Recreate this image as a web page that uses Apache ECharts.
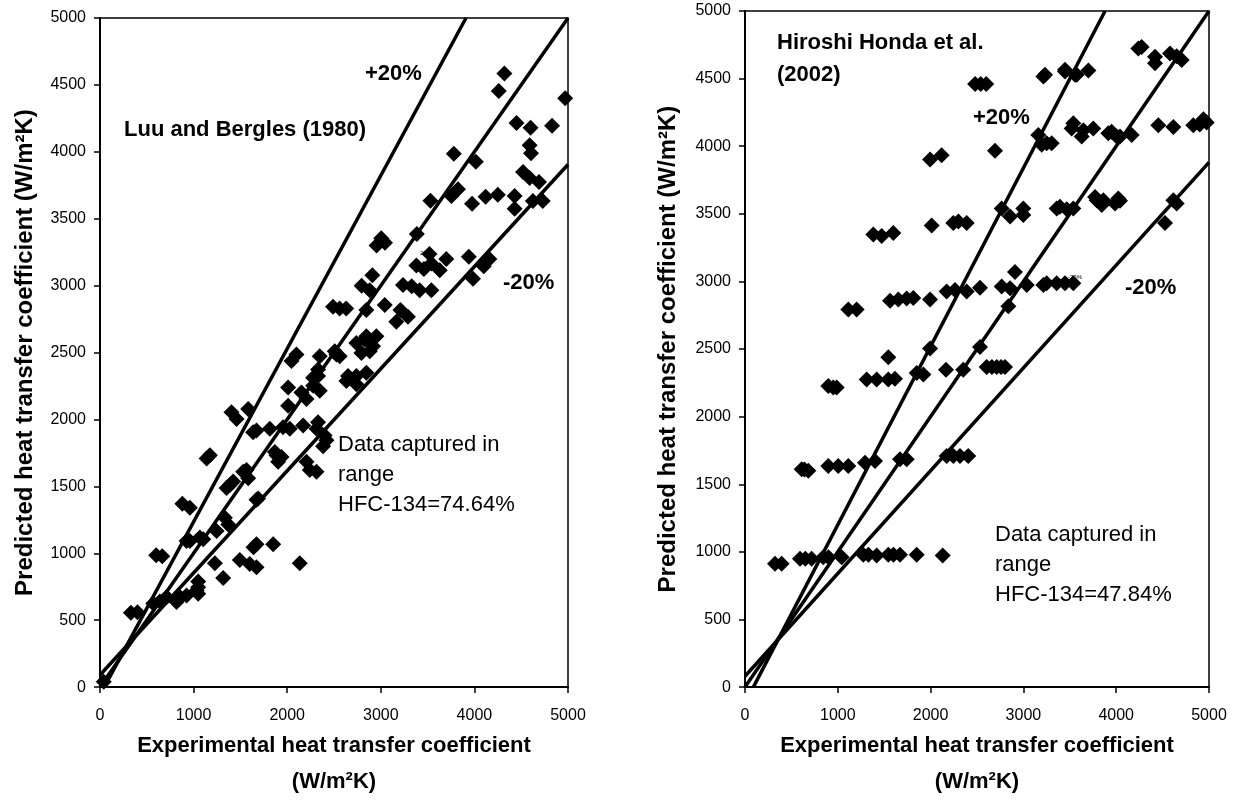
<!DOCTYPE html>
<html>
<head>
<meta charset="utf-8">
<title>Heat transfer coefficient comparison</title>
<script src="https://cdn.jsdelivr.net/npm/echarts@6/dist/echarts.min.js"></script>
<style>
  html, body { margin: 0; padding: 0; background: #fff; }
  #chart { width: 1240px; height: 805px; }
</style>
</head>
<body>
<div id="chart"></div>
<script>
// Predicted vs experimental HTC [W/m2K], Luu and Bergles (1980) correlation
const luuPoints = [
  [4320,4585],[4260,4455],[4970,4400],
  [4450,4215],[4600,4180],[4830,4195],
  [4590,4050],[4605,3990],
  [3780,3985],[4015,3925],
  [4520,3850],[4590,3805],[4690,3775],
  [3825,3720],[3755,3670],[3530,3635],[3975,3612],[4120,3664],[4250,3680],[4430,3670],[4430,3575],[4625,3632],[4730,3632],
  [3385,3385],[3005,3355],[2955,3300],[3045,3320],
  [3520,3237],[3380,3150],[3540,3165],[3700,3200],[3630,3115],[3460,3125],[3940,3215],[4160,3200],[4100,3145],[3985,3052],
  [2910,3077],[2795,3000],[3237,3005],[3330,2995],[3415,2966],[3540,2966],[2882,2966],
  [2490,2842],[2560,2830],[2630,2830],[2846,2818],[3042,2855],[3210,2818],[3290,2768],[3166,2731],
  [2846,2621],[2953,2621],[2917,2547],[2793,2497],[2739,2571],[2828,2596],[2882,2510],
  [2526,2485],[2508,2510],[2561,2473],[2348,2473],[2099,2485],[2046,2436],
  [2846,2349],[2739,2325],[2650,2325],[2739,2263],[2633,2288],[2330,2374],[2330,2325],[2277,2312],[2277,2251],[2152,2201],[2010,2238],[2348,2214],[2206,2152],[2010,2103],
  [2330,1979],[2313,1930],[2170,1955],[1956,1942],[1814,1930],[1672,1918],[1636,1905],[1405,2053],[1583,2078],[1459,2004],[2028,1930],[2419,1844],[2383,1800],[2400,1880],
  [1139,1709],[1174,1732],[1868,1757],[1939,1720],[1885,1733],[1903,1684],[2206,1684],[2241,1622],[2313,1610],[1530,1610],[1565,1622],
  [1423,1536],[1583,1561],[1352,1487],[1387,1511],
  [1672,1400],[1690,1410],[880,1370],[960,1340],
  [1334,1265],[1370,1215],
  [925,1092],[960,1092],[1067,1117],[1103,1104],[1245,1166],
  [1672,1067],[1640,1045],[1850,1067],
  [2134,925],[1494,950],[1600,920],[1672,895],[1227,925],
  [1316,815],[1049,790],
  [1032,722],[1049,697],[1049,747],[925,685],[854,673],[818,636],[712,673],[640,640],[569,624],
  [600,985],[665,978],
  [330,555],[400,560],
  [40,40]
];

// Predicted vs experimental HTC [W/m2K], Hiroshi Honda et al. (2002) correlation
const hondaPoints = [
  [4238,4722],[4274,4733],[4418,4661],[4418,4613],[4580,4685],[4652,4666],[4706,4637],
  [3215,4516],[3233,4529],[3448,4553],[3448,4565],[3556,4529],[3574,4529],[3700,4560],
  [2480,4460],[2540,4460],[2600,4460],
  [3161,4083],[3197,4010],[3251,4022],[3305,4022],[3520,4131],[3538,4170],[3628,4071],[3646,4118],[3753,4131],
  [3915,4095],[3951,4107],[4005,4071],[4041,4071],[4167,4083],[4454,4155],[4616,4143],[4831,4155],[4900,4160],[4975,4175],[4940,4200],
  [2694,3967],[1994,3902],[2119,3934],
  [2766,3540],[2856,3480],[2999,3540],[2999,3492],[3359,3540],[3394,3552],[3467,3533],[3538,3540],
  [3790,3601],[3772,3625],[3844,3565],[3861,3601],[3987,3576],[4023,3613],[4041,3596],[4616,3601],[4652,3576],[4526,3432],
  [2012,3413],[2245,3432],[2299,3444],[2389,3432],
  [1383,3348],[1473,3336],[1598,3359],
  [2909,3070],[2766,2962],[2856,2950],[3036,2974],[3215,2974],[3251,2986],[3359,2986],[3448,2986],[3538,2986],
  [2532,2954],[2389,2925],[2263,2937],[2173,2925],[1994,2866],[1814,2878],[1742,2873],[1652,2866],[1563,2858],[2838,2817],
  [1113,2793],[1203,2793],
  [1994,2504],[2532,2516],[1544,2440],
  [1850,2323],[1922,2311],[2166,2347],[2352,2347],[2604,2367],[2660,2367],[2712,2367],[2760,2367],[2802,2367],
  [1311,2275],[1419,2275],[1544,2275],[1616,2280],
  [898,2227],[950,2215],[988,2215],
  [1670,1685],[1742,1685],[2173,1709],[2245,1709],[2317,1709],[2406,1709],[1293,1660],[1401,1672],
  [898,1636],[1005,1636],[1113,1636],[611,1612],[682,1600],[640,1610],
  [323,913],[395,913],[593,949],[650,949],[718,949],[844,961],[900,961],[1042,961],
  [1275,978],[1330,978],[1419,973],[1544,978],[1600,978],[1670,978],[1850,978],[2130,973]
];

// Reference lines: +20 %, perfect agreement, -20 %
const luuPlus20 = [[45,0],[3910,5000]];
const luuExact = [[0,0],[5000,5000]];
const luuMinus20 = [[0,90],[5000,3905]];
const hondaPlus20 = [[90,0],[3880,5000]];
const hondaExact = [[0,0],[5000,5000]];
const hondaMinus20 = [[0,80],[5000,3880]];

// Axis setup
const axisMin = 0;
const axisMax = 5000;
const xStep = 1000;
const yStep = 500;

// Texts
const xTitle = 'Experimental heat transfer coefficient\n(W/m\u00B2K)';
const yTitle = 'Predicted heat transfer coefficient (W/m\u00B2K)';
const luuTitle = 'Luu and Bergles (1980)';
const hondaTitle = 'Hiroshi Honda et al.\n(2002)';
const plusLabel = '+20%';
const minusLabel = '-20%';
const luuCapture = 'Data captured in\nrange\nHFC-134=74.64%';
const hondaCapture = 'Data captured in\nrange\nHFC-134=47.84%';

const FONT = "'Liberation Sans', Arial, Helvetica, sans-serif";
const plainNumber = (v) => String(v);

function xAxisFor(gridIndex, nameGap) {
  return {
    type: 'value', gridIndex, min: axisMin, max: axisMax, interval: xStep,
    name: xTitle, nameLocation: 'middle', nameGap,
    nameTextStyle: { fontFamily: FONT, fontSize: 22, fontWeight: 'bold', color: '#000', lineHeight: 36 },
    axisLine: { onZero: false, lineStyle: { color: '#000', width: 2 } },
    axisTick: { show: true, length: 6, lineStyle: { color: '#000', width: 1.5 } },
    axisLabel: { margin: 20, fontFamily: FONT, fontSize: 16, color: '#000', formatter: plainNumber },
    splitLine: { show: false }
  };
}

function yAxisFor(gridIndex, nameGap) {
  return {
    type: 'value', gridIndex, min: axisMin, max: axisMax, interval: yStep,
    name: yTitle, nameLocation: 'middle', nameGap,
    nameTextStyle: { fontFamily: FONT, fontSize: 24, fontWeight: 'bold', color: '#000' },
    axisLine: { onZero: false, lineStyle: { color: '#000', width: 2 } },
    axisTick: { show: true, length: 6, lineStyle: { color: '#000', width: 1.5 } },
    axisLabel: { margin: 14, fontFamily: FONT, fontSize: 16, color: '#000', formatter: plainNumber },
    splitLine: { show: false }
  };
}

function refLine(data, idx) {
  return {
    type: 'line', xAxisIndex: idx, yAxisIndex: idx, data,
    showSymbol: false, symbol: 'none', silent: true, z: 2,
    lineStyle: { color: '#000', width: 3.5 }
  };
}

function points(data, idx) {
  return {
    type: 'scatter', xAxisIndex: idx, yAxisIndex: idx, data,
    symbol: 'diamond', symbolSize: 16, silent: true, z: 3,
    itemStyle: { color: '#000', opacity: 1 }
  };
}

function label(text, x, y, size, weight, valign, lineHeight) {
  return {
    type: 'text', silent: true, z: 10,
    style: {
      text, x, y, fill: '#000', fontFamily: FONT, fontSize: size, fontWeight: weight,
      align: 'left', verticalAlign: valign, lineHeight: lineHeight || size
    }
  };
}

const chart = echarts.init(document.getElementById('chart'), null, { renderer: 'canvas' });

chart.setOption({
  animation: false,
  backgroundColor: '#fff',
  grid: [
    { left: 100, top: 18, width: 468, height: 676, show: true, borderColor: '#000', borderWidth: 1.5 },
    { left: 745, top: 11, width: 464, height: 690, show: true, borderColor: '#000', borderWidth: 1.5 }
  ],
  xAxis: [xAxisFor(0, 39), xAxisFor(1, 32)],
  yAxis: [yAxisFor(0, 63), yAxisFor(1, 65)],
  series: [
    refLine(luuPlus20, 0), refLine(luuExact, 0), refLine(luuMinus20, 0),
    refLine(hondaPlus20, 1), refLine(hondaExact, 1), refLine(hondaMinus20, 1),
    points(luuPoints, 0), points(hondaPoints, 1)
  ],
  graphic: [
    label(luuTitle, 124, 130, 22, 'bold', 'middle'),
    label(plusLabel, 365, 74, 22, 'bold', 'middle'),
    label(minusLabel, 503, 283, 22, 'bold', 'middle'),
    label('20%', 420, 253, 6, 'normal', 'middle'),
    label(luuCapture, 338, 430, 22, 'normal', 'top', 30),
    label(hondaTitle, 777, 27, 22, 'bold', 'top', 32),
    label(plusLabel, 973, 118, 22, 'bold', 'middle'),
    label(minusLabel, 1125, 288, 22, 'bold', 'middle'),
    label('-30%', 1068, 277, 6, 'normal', 'middle'),
    label(hondaCapture, 995, 520, 22, 'normal', 'top', 30)
  ]
});
</script>
</body>
</html>
